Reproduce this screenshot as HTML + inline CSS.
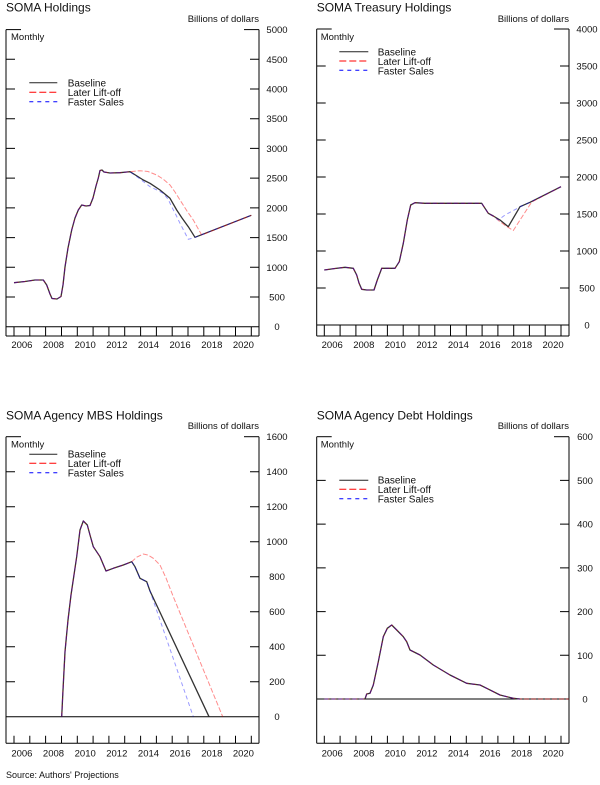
<!DOCTYPE html>
<html><head><meta charset="utf-8"><style>
html,body{margin:0;padding:0;background:#fff;}
svg{display:block;}
text{font-family:"Liberation Sans",Arial,sans-serif;fill:#111;}
.t{font-size:12px;}
.s{font-size:9.5px;}
.l{font-size:10px;}
.ax{stroke:#000;stroke-width:1;fill:none;}
.bk{stroke:#333;stroke-width:1.3;fill:none;stroke-linejoin:round;}
.rd{stroke:#ff0000;stroke-width:1;fill:none;stroke-dasharray:5,2;opacity:0.45;}
.bl{stroke:#0000ff;stroke-width:1;fill:none;stroke-dasharray:4,3;opacity:0.4;}
.lrd{stroke:#ff0000;stroke-width:1;stroke-dasharray:7,3;}
.lbl{stroke:#0000ff;stroke-width:1;stroke-dasharray:4,4;}
.lbk{stroke:#222;stroke-width:1;}
</style></head><body>
<svg width="600" height="785" viewBox="0 0 600 785" xmlns="http://www.w3.org/2000/svg">
<rect width="600" height="785" fill="#fff"/>

<!-- ================= TOP LEFT ================= -->
<text class="t" x="6" y="11.5">SOMA Holdings</text>
<text class="s" x="259" y="22" text-anchor="end">Billions of dollars</text>
<text class="s" x="11" y="40">Monthly</text>
<g class="ax">
<line x1="6" y1="29.6" x2="6" y2="336"/>
<line x1="259" y1="29.6" x2="259" y2="336"/>
<line x1="6" y1="336" x2="259" y2="336"/>
<line x1="6" y1="326.7" x2="259" y2="326.7"/>
<line x1="6" y1="29.6" x2="21" y2="29.6"/><line x1="244" y1="29.6" x2="259" y2="29.6"/>
<path d="M6 59.3h9M6 89h9M6 118.7h9M6 148.4h9M6 178.1h9M6 207.9h9M6 237.6h9M6 267.3h9M6 297h9"/>
<path d="M250 59.3h9M250 89h9M250 118.7h9M250 148.4h9M250 178.1h9M250 207.9h9M250 237.6h9M250 267.3h9M250 297h9"/>
<path d="M14 326.7V336M29.8 326.7V336M45.6 326.7V336M61.5 326.7V336M77.3 326.7V336M93.1 326.7V336M108.9 326.7V336M124.7 326.7V336M140.6 326.7V336M156.4 326.7V336M172.2 326.7V336M188 326.7V336M203.8 326.7V336M219.7 326.7V336M235.5 326.7V336M251.3 326.7V336"/>
</g>
<g class="s" text-anchor="middle">
<text x="277" y="33">5000</text><text x="277" y="62.8">4500</text><text x="277" y="92.5">4000</text><text x="277" y="122.2">3500</text><text x="277" y="151.9">3000</text><text x="277" y="181.6">2500</text><text x="277" y="211.4">2000</text><text x="277" y="241.1">1500</text><text x="277" y="270.8">1000</text><text x="277" y="300.5">500</text><text x="277" y="330.2">0</text>
<text x="21.9" y="348">2006</text><text x="53.5" y="348">2008</text><text x="85.2" y="348">2010</text><text x="116.8" y="348">2012</text><text x="148.5" y="348">2014</text><text x="180.1" y="348">2016</text><text x="211.8" y="348">2018</text><text x="243.4" y="348">2020</text>
</g>
<line class="lbk" x1="29.3" y1="82.7" x2="57.3" y2="82.7"/>
<line class="lrd" x1="29.3" y1="92.3" x2="57.3" y2="92.3"/>
<line class="lbl" x1="29.3" y1="101.7" x2="57.3" y2="101.7"/>
<text class="l" x="67.7" y="86.5">Baseline</text>
<text class="l" x="67.7" y="96">Later Lift-off</text>
<text class="l" x="67.7" y="105.5">Faster Sales</text>
<polyline class="bk" points="14,282.7 25,281.5 35,280 43.3,280 46.7,285 50,294 52,298.5 57,299 61,296.5 63,285 65,267 68,248 71.7,230 75,218 78.3,210 81.7,205 86,206 90,205.5 93,198 96,186 98.3,178 100,170.5 102,170 104,172 110,173 120,172.7 130,171.7 137,176 143.3,180 150,183.3 160,190 170,198.3 176.7,210 182,218 188.3,226.7 195,237.3 251.3,215.3"/>
<polyline class="rd" points="14,282.7 25,281.5 35,280 43.3,280 46.7,285 50,294 52,298.5 57,299 61,296.5 63,285 65,267 68,248 71.7,230 75,218 78.3,210 81.7,205 86,206 90,205.5 93,198 96,186 98.3,178 100,170.5 102,170 104,172 110,173 120,172.7 130,171.7 140,170.7 148,171.5 156.7,175 163,179 170,185 175,192 180,200 187,211 193.3,220 201.7,235 251.3,215.3"/>
<polyline class="bl" points="14,282.7 25,281.5 35,280 43.3,280 46.7,285 50,294 52,298.5 57,299 61,296.5 63,285 65,267 68,248 71.7,230 75,218 78.3,210 81.7,205 86,206 90,205.5 93,198 96,186 98.3,178 100,170.5 102,170 104,172 110,173 120,172.7 130,171.7 140,179 150,186.7 157,190 163.3,193.3 168,199 171.7,206.7 176,215 180,223.3 184,231 188.3,239.3 195,237.3 251.3,215.3"/>

<!-- ================= TOP RIGHT ================= -->
<text class="t" x="316.7" y="11.5">SOMA Treasury Holdings</text>
<text class="s" x="569" y="22" text-anchor="end">Billions of dollars</text>
<text class="s" x="320.7" y="40">Monthly</text>
<g class="ax">
<line x1="316.7" y1="29" x2="316.7" y2="336"/>
<line x1="569" y1="29" x2="569" y2="336"/>
<line x1="316.7" y1="336" x2="569" y2="336"/>
<line x1="316.7" y1="325" x2="569" y2="325"/>
<line x1="316.7" y1="29" x2="331.7" y2="29"/><line x1="554" y1="29" x2="569" y2="29"/>
<path d="M316.7 66h9M316.7 103h9M316.7 140h9M316.7 177h9M316.7 214h9M316.7 251h9M316.7 288h9"/>
<path d="M560 66h9M560 103h9M560 140h9M560 177h9M560 214h9M560 251h9M560 288h9"/>
<path d="M324.3 325V336M340.1 325V336M355.9 325V336M371.6 325V336M387.4 325V336M403.2 325V336M419 325V336M434.8 325V336M450.5 325V336M466.3 325V336M482.1 325V336M497.9 325V336M513.7 325V336M529.4 325V336M545.2 325V336M561 325V336"/>
</g>
<g class="s" text-anchor="middle">
<text x="587" y="32.5">4000</text><text x="587" y="69.5">3500</text><text x="587" y="106.5">3000</text><text x="587" y="143.5">2500</text><text x="587" y="180.5">2000</text><text x="587" y="217.5">1500</text><text x="587" y="254.5">1000</text><text x="587" y="291.5">500</text><text x="587" y="328.5">0</text>
<text x="332.2" y="348">2006</text><text x="363.8" y="348">2008</text><text x="395.3" y="348">2010</text><text x="426.9" y="348">2012</text><text x="458.4" y="348">2014</text><text x="490" y="348">2016</text><text x="521.6" y="348">2018</text><text x="553.1" y="348">2020</text>
</g>
<line class="lbk" x1="339.3" y1="51.7" x2="368.3" y2="51.7"/>
<line class="lrd" x1="339.3" y1="61" x2="368.3" y2="61"/>
<line class="lbl" x1="339.3" y1="70.3" x2="368.3" y2="70.3"/>
<text class="l" x="377.7" y="55.5">Baseline</text>
<text class="l" x="377.7" y="65">Later Lift-off</text>
<text class="l" x="377.7" y="74.5">Faster Sales</text>
<polyline class="bk" points="324.3,270 335,268.5 345,267.3 353.3,268.3 356.7,275 359,283 361.7,289.3 366.7,290 374,290 377.3,280 381.7,268.3 395,268.3 399.3,261.7 403.3,243.3 407.3,220 410.7,205 415,202.7 425,203.3 481.7,203.3 488.3,213.3 493.3,216 500,220 508.3,226.7 520,206.7 530,202.3 561,186.7"/>
<polyline class="rd" points="324.3,270 335,268.5 345,267.3 353.3,268.3 356.7,275 359,283 361.7,289.3 366.7,290 374,290 377.3,280 381.7,268.3 395,268.3 399.3,261.7 403.3,243.3 407.3,220 410.7,205 415,202.7 425,203.3 481.7,203.3 488.3,213.3 493.3,216 500,221.7 506,226 513.3,230.5 522,217 531.7,202 561,186.7"/>
<polyline class="bl" points="324.3,270 335,268.5 345,267.3 353.3,268.3 356.7,275 359,283 361.7,289.3 366.7,290 374,290 377.3,280 381.7,268.3 395,268.3 399.3,261.7 403.3,243.3 407.3,220 410.7,205 415,202.7 425,203.3 481.7,203.3 488.3,213.3 493.3,216 498.3,220 505,215 521.7,206 530,202.3 561,186.7"/>

<!-- ================= BOTTOM LEFT ================= -->
<text class="t" x="6" y="419.5">SOMA Agency MBS Holdings</text>
<text class="s" x="259" y="429" text-anchor="end">Billions of dollars</text>
<text class="s" x="11" y="447.5">Monthly</text>
<g class="ax">
<line x1="6" y1="436.7" x2="6" y2="743.3"/>
<line x1="259" y1="436.7" x2="259" y2="743.3"/>
<line x1="6" y1="743.3" x2="259" y2="743.3"/>
<line x1="6" y1="716.7" x2="259" y2="716.7"/>
<line x1="6" y1="436.7" x2="21" y2="436.7"/><line x1="244" y1="436.7" x2="259" y2="436.7"/>
<path d="M6 471.7h9M6 506.7h9M6 541.7h9M6 576.7h9M6 611.7h9M6 646.7h9M6 681.7h9"/>
<path d="M250 471.7h9M250 506.7h9M250 541.7h9M250 576.7h9M250 611.7h9M250 646.7h9M250 681.7h9"/>
<path d="M14 735.7V743.3M29.8 735.7V743.3M45.6 735.7V743.3M61.5 735.7V743.3M77.3 735.7V743.3M93.1 735.7V743.3M108.9 735.7V743.3M124.7 735.7V743.3M140.6 735.7V743.3M156.4 735.7V743.3M172.2 735.7V743.3M188 735.7V743.3M203.8 735.7V743.3M219.7 735.7V743.3M235.5 735.7V743.3M251.3 735.7V743.3"/>
</g>
<g class="s" text-anchor="middle">
<text x="277" y="440.2">1600</text><text x="277" y="475.2">1400</text><text x="277" y="510.2">1200</text><text x="277" y="545.2">1000</text><text x="277" y="580.2">800</text><text x="277" y="615.2">600</text><text x="277" y="650.2">400</text><text x="277" y="685.2">200</text><text x="277" y="720.2">0</text>
<text x="21.9" y="756.5">2006</text><text x="53.5" y="756.5">2008</text><text x="85.2" y="756.5">2010</text><text x="116.8" y="756.5">2012</text><text x="148.5" y="756.5">2014</text><text x="180.1" y="756.5">2016</text><text x="211.8" y="756.5">2018</text><text x="243.4" y="756.5">2020</text>
</g>
<line class="lbk" x1="29.3" y1="454.3" x2="57.3" y2="454.3"/>
<line class="lrd" x1="29.3" y1="463.3" x2="57.3" y2="463.3"/>
<line class="lbl" x1="29.3" y1="472.7" x2="57.3" y2="472.7"/>
<text class="l" x="67.7" y="457.5">Baseline</text>
<text class="l" x="67.7" y="467">Later Lift-off</text>
<text class="l" x="67.7" y="476.5">Faster Sales</text>
<polyline class="bk" points="61.7,716.7 63,690 65,651.7 68,620 71,595 76.7,556.7 80,530 83.3,521 87.3,525 90,535 93.3,546.7 100,556.7 106,571 113.3,568.3 123.3,565 131.7,561.7 135,566.7 140,578.3 146.7,581.7 150,591 209,716.7"/>
<polyline class="rd" points="61.7,716.7 63,690 65,651.7 68,620 71,595 76.7,556.7 80,530 83.3,521 87.3,525 90,535 93.3,546.7 100,556.7 106,571 113.3,568.3 123.3,565 131.7,561.7 137,557 143.3,554 148,555 153.3,558.3 160,565 166,578 173.3,596.7 222.7,716.7"/>
<polyline class="bl" points="61.7,716.7 63,690 65,651.7 68,620 71,595 76.7,556.7 80,530 83.3,521 87.3,525 90,535 93.3,546.7 100,556.7 106,571 113.3,568.3 123.3,565 131.7,561.7 135,566.7 140,578.3 146.7,581.7 150,591 193.3,716.7"/>

<!-- ================= BOTTOM RIGHT ================= -->
<text class="t" x="316.7" y="419.5">SOMA Agency Debt Holdings</text>
<text class="s" x="569" y="429" text-anchor="end">Billions of dollars</text>
<text class="s" x="320.7" y="447.5">Monthly</text>
<g class="ax">
<line x1="316.7" y1="436.7" x2="316.7" y2="743.3"/>
<line x1="569" y1="436.7" x2="569" y2="743.3"/>
<line x1="316.7" y1="743.3" x2="569" y2="743.3"/>
<line x1="316.7" y1="699" x2="569" y2="699"/>
<line x1="316.7" y1="436.7" x2="331.7" y2="436.7"/><line x1="554" y1="436.7" x2="569" y2="436.7"/>
<path d="M316.7 480.4h9M316.7 524.1h9M316.7 567.9h9M316.7 611.6h9M316.7 655.3h9"/>
<path d="M560 480.4h9M560 524.1h9M560 567.9h9M560 611.6h9M560 655.3h9"/>
<path d="M324.3 735.7V743.3M340.1 735.7V743.3M355.9 735.7V743.3M371.6 735.7V743.3M387.4 735.7V743.3M403.2 735.7V743.3M419 735.7V743.3M434.8 735.7V743.3M450.5 735.7V743.3M466.3 735.7V743.3M482.1 735.7V743.3M497.9 735.7V743.3M513.7 735.7V743.3M529.4 735.7V743.3M545.2 735.7V743.3M561 735.7V743.3"/>
</g>
<g class="s" text-anchor="middle">
<text x="585" y="440.2">600</text><text x="585" y="483.9">500</text><text x="585" y="527.6">400</text><text x="585" y="571.4">300</text><text x="585" y="615.1">200</text><text x="585" y="658.8">100</text><text x="585" y="702.5">0</text>
<text x="332.2" y="756.5">2006</text><text x="363.8" y="756.5">2008</text><text x="395.3" y="756.5">2010</text><text x="426.9" y="756.5">2012</text><text x="458.4" y="756.5">2014</text><text x="490" y="756.5">2016</text><text x="521.6" y="756.5">2018</text><text x="553.1" y="756.5">2020</text>
</g>
<line class="lbk" x1="339.3" y1="480.3" x2="368.3" y2="480.3"/>
<line class="lrd" x1="339.3" y1="489.3" x2="368.3" y2="489.3"/>
<line class="lbl" x1="339.3" y1="498.7" x2="368.3" y2="498.7"/>
<text class="l" x="377.7" y="483.5">Baseline</text>
<text class="l" x="377.7" y="493">Later Lift-off</text>
<text class="l" x="377.7" y="502.5">Faster Sales</text>
<polyline class="bk" points="365,699 366.7,694 370,693.3 373.3,685 378.3,661.7 383.3,636.7 387.3,628.3 391.7,625 396.7,630 403.3,636.7 406.7,641.7 410,650 420,655 433.3,665 450,675 466.7,683.3 480,685 486.7,688.3 500,695 513.3,698.3 520,699"/>
<polyline class="rd" points="324.3,699 365,699 366.7,694 370,693.3 373.3,685 378.3,661.7 383.3,636.7 387.3,628.3 391.7,625 396.7,630 403.3,636.7 406.7,641.7 410,650 420,655 433.3,665 450,675 466.7,683.3 480,685 486.7,688.3 500,695 513.3,698.3 520,699 569,699"/>
<polyline class="bl" points="324.3,699 365,699 366.7,694 370,693.3 373.3,685 378.3,661.7 383.3,636.7 387.3,628.3 391.7,625 396.7,630 403.3,636.7 406.7,641.7 410,650 420,655 433.3,665 450,675 466.7,683.3 480,685 486.7,688.3 500,695 513.3,698.3 520,699"/>

<text x="6" y="778" style="font-size:9px">Source: Authors' Projections</text>
</svg>
</body></html>
